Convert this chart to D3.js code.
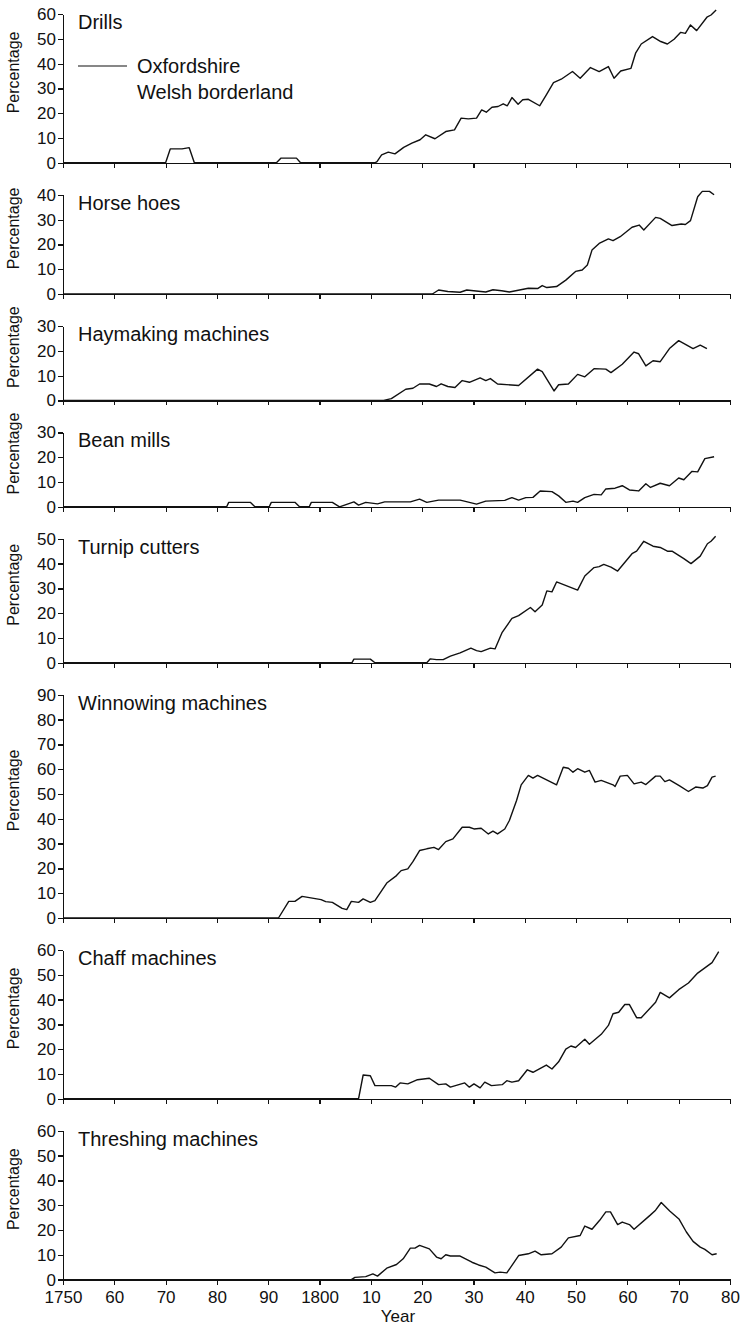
<!DOCTYPE html>
<html>
<head>
<meta charset="utf-8">
<script src="https://cdn.jsdelivr.net/npm/d3@7"></script>
<style>
  body { margin: 0; background: #fff; }
  svg text { font-family: "Liberation Sans", Arial, Helvetica, sans-serif; fill: #111; }
  .axis path, .axis line { stroke: #111; stroke-width: 1.2; shape-rendering: crispEdges; }
  .axis text { font-size: 17px; }
</style>
</head>
<body>
<div id="chart"></div>
<script>
// panel titles and y maxima (top to bottom)
var titles = ["Drills", "Horse hoes", "Haymaking machines", "Bean mills",
  "Turnip cutters", "Winnowing machines", "Chaff machines", "Threshing machines"];
var yMax = [60, 40, 30, 30, 50, 90, 60, 60];
var legendNames = ["Oxfordshire", "Welsh borderland"];
var yearTicks = [1750, 1760, 1770, 1780, 1790, 1800, 1810, 1820, 1830, 1840, 1850, 1860, 1870, 1880];

// Oxfordshire, [year, percentage]
var drills = [[1750,0],[1770,0],[1770.9,5.6],[1773.2,5.6],[1774.6,6.1],[1775.6,0],[1791.6,0],[1792.5,1.9],
  [1795.5,1.9],[1796.3,0],[1810.8,0],[1811.2,0.5],[1812.1,3.2],[1813.4,4.3],[1814.7,3.6],[1816.4,6.2],
  [1818,7.9],[1819.6,9.3],[1820.7,11.3],[1822.5,9.7],[1824.6,12.6],[1826.3,13.3],[1827.6,18],[1829,17.7],
  [1830.6,18],[1831.6,21.3],[1832.5,20.4],[1833.6,22.4],[1834.8,22.7],[1835.8,23.8],[1836.6,23],[1837.5,26.3],
  [1838.7,23.6],[1839.6,25.4],[1840.7,25.6],[1842.9,23],[1844.2,27.4],[1845.6,32.3],[1847.1,33.7],[1849.3,36.8],
  [1850.8,34.1],[1852.8,38.4],[1854.5,36.8],[1856.3,38.8],[1857.4,34.1],[1858.7,37],[1860.7,38.1],[1861.6,44.2],
  [1862.7,47.9],[1864.9,50.9],[1866.5,48.9],[1867.8,47.9],[1869.1,49.8],[1870.4,52.6],[1871.3,52.2],[1872.3,55.6],
  [1873.5,53.3],[1875.5,58.7],[1876.3,59.6],[1877.3,61.6]];

var horseHoes = [[1750,0],[1822,0],[1823.2,1.6],[1825,1],[1827.4,0.7],[1828.7,1.6],[1830.5,1.2],[1832.4,0.8],
  [1833.8,1.7],[1835.5,1.3],[1837,0.8],[1840.7,2.3],[1842.5,2.2],[1843.4,3.4],[1844.3,2.6],[1846.2,3],
  [1848,5.6],[1849.9,9.1],[1851.2,9.7],[1852.2,11.7],[1853.1,17.7],[1854.5,20.4],[1856.3,22.2],[1857.2,21.5],
  [1858.6,23.1],[1860.9,26.9],[1862.3,27.8],[1863.2,25.8],[1865.5,30.9],[1866.4,30.5],[1868.7,27.6],[1870.5,28.2],
  [1871.3,28],[1872.3,29.6],[1873.7,39.2],[1874.6,41.4],[1876,41.4],[1876.9,40]];

var haymaking = [[1750,0],[1812.5,0],[1814,0.7],[1816.8,4.5],[1818.2,4.9],[1819.5,6.6],[1821.4,6.6],[1822.8,5.6],
  [1823.7,6.7],[1825,5.6],[1826.4,5.2],[1827.8,8],[1829.2,7.3],[1831.3,9.1],[1832.4,8],[1833.3,8.8],[1834.7,6.6],
  [1838.8,6],[1842.5,12.6],[1843.4,11.6],[1845.7,3.8],[1846.6,6.3],[1848.5,6.6],[1850.3,10.5],[1851.7,9.5],
  [1853.5,12.8],[1855.8,12.6],[1856.8,11.2],[1859,14.6],[1861.3,19.5],[1862.2,18.8],[1863.6,13.9],[1865,16],
  [1866.4,15.6],[1868.2,20.9],[1870,24.1],[1872.8,20.9],[1874.2,22.3],[1875.5,20.9]];

var beanMills = [[1750,0],[1781.9,0],[1782.3,1.8],[1786.5,1.8],[1787.4,0],[1790.2,0],[1790.6,1.8],[1795.2,1.8],
  [1796.1,0],[1798,0],[1798.4,1.8],[1802.5,1.8],[1803.9,0],[1806.7,2],[1807.6,0.7],[1809,1.8],[1811.3,1.2],
  [1812.7,2],[1817.7,2],[1819.5,3.1],[1820.9,1.8],[1823.2,2.7],[1827.4,2.7],[1830.6,1.1],[1832.4,2.3],
  [1836.1,2.6],[1837.5,3.7],[1838.8,2.7],[1840.2,3.7],[1841.6,3.8],[1843,6.4],[1845.3,6.1],[1846.6,4.4],
  [1848,1.8],[1849.4,2.3],[1850.3,1.8],[1851.7,3.7],[1853.5,5],[1854.9,4.8],[1855.8,7.2],[1857.6,7.5],
  [1859,8.5],[1860.4,6.8],[1862.2,6.4],[1863.6,9.3],[1864.5,7.8],[1866.4,9.5],[1868.2,8.5],[1870,11.6],
  [1871,10.9],[1872.6,14.3],[1873.7,14.1],[1875.1,19.4],[1876.9,20.2]];

var turnipCutters = [[1750,0],[1806.3,0],[1806.7,1.5],[1809.9,1.5],[1810.8,0],[1820.9,0],[1821.6,1.6],
  [1822.8,1.3],[1824.1,1.3],[1825.5,2.7],[1827.4,4],[1829.5,5.9],[1830.6,4.9],[1831.5,4.5],[1833.3,5.9],
  [1834.2,5.6],[1835.6,12.3],[1837.5,17.9],[1838.8,19],[1841.1,22.3],[1842,20.6],[1843.4,23.3],[1844.3,29],
  [1845.3,28.6],[1846.2,32.6],[1850.3,29.3],[1851.7,35],[1853.5,38.4],[1854.5,38.8],[1855.4,39.7],[1856.8,38.6],
  [1858.1,37],[1860.9,44],[1861.8,45],[1863.2,49],[1865,47],[1866.4,46.5],[1867.8,45],[1868.7,45],
  [1871,42],[1872.4,40],[1874.2,43],[1875.6,48],[1876.3,49],[1877.2,51]];

var winnowing = [[1750,0],[1792,0],[1794,6.7],[1795.2,6.7],[1796.6,8.7],[1800.3,7.4],[1801.2,6.6],[1802.5,6.3],
  [1804.4,3.9],[1805.3,3.4],[1806.2,6.7],[1807.6,6.3],[1808.5,7.7],[1809.9,6.3],[1810.8,7],[1813.1,14.1],
  [1815,17.1],[1815.9,19.1],[1817.2,19.8],[1818.2,22.7],[1819.5,27.2],[1820.9,27.9],[1822.3,28.5],[1823.2,27.6],
  [1824.6,30.8],[1826,31.9],[1827.8,36.6],[1829.2,36.6],[1830.1,35.9],[1831.5,36.2],[1832.9,33.9],[1833.8,35],
  [1834.7,33.9],[1836.1,35.9],[1837,39.3],[1838.4,47.4],[1839.3,53.7],[1840.7,57.5],[1841.6,56.4],[1842.5,57.5],
  [1846.2,53.7],[1847.5,60.8],[1848.5,60.4],[1849.4,58.8],[1850.3,60.2],[1851.7,58.8],[1852.6,59.5],[1853.7,54.8],
  [1854.9,55.5],[1857.2,53.7],[1857.6,53],[1858.6,57.2],[1860,57.5],[1861.3,54.1],[1862.7,54.8],[1863.6,53.8],
  [1865.5,57.2],[1866.4,57.2],[1867.3,55],[1868.2,55.7],[1870.1,53.4],[1871.9,51],[1873.3,52.8],[1874.7,52.4],
  [1875.6,53.4],[1876.5,56.8],[1877.2,57.2]];

var chaff = [[1750,0],[1807.6,0],[1808.5,9.6],[1809.9,9.3],[1810.8,5.3],[1814,5.3],[1814.8,4.7],[1815.7,6.4],
  [1817.2,6],[1819.1,7.7],[1821.4,8.3],[1823.2,5.7],[1824.6,6],[1825.5,4.7],[1828.3,6.4],[1829.2,4.7],
  [1830.1,6],[1831.3,4.4],[1832.2,6.7],[1833.5,5.3],[1835.6,5.7],[1836.5,7.3],[1837.5,6.7],[1838.8,7.3],
  [1840.5,11.7],[1841.6,10.7],[1844.2,13.6],[1845.3,12],[1846.6,14.9],[1848,20],[1849,21.3],[1849.9,20.7],
  [1851.7,24],[1852.6,22],[1854.9,26],[1856.3,29.6],[1857.2,34.3],[1858.3,34.9],[1859.5,38],[1860.4,38],
  [1861.8,32.7],[1862.7,32.7],[1865.5,38.9],[1866.4,42.9],[1868.2,40.7],[1870,44],[1871.9,46.7],[1873.7,50.7],
  [1876.5,54.9],[1877.8,59.3]];

var threshing = [[1750,0],[1806.2,0],[1806.9,0.9],[1809,1.2],[1810.4,2.3],[1811.3,1.4],[1813.1,4.6],[1815,6.1],
  [1816.3,8.4],[1817.7,12.7],[1818.6,12.7],[1819.5,13.8],[1821.4,12.4],[1822.8,9.1],[1823.7,8.4],[1824.6,10],
  [1825.5,9.5],[1827.4,9.5],[1829.7,7],[1831,5.9],[1832.4,5],[1834.2,2.7],[1835.2,3],[1836.5,2.7],[1838.8,9.7],
  [1840.7,10.4],[1842,11.5],[1843.2,10],[1845.3,10.4],[1847.1,13.1],[1848.5,16.8],[1850.8,17.8],[1851.7,21.6],
  [1853.1,20.3],[1854.6,23.9],[1855.8,27.3],[1856.7,27.3],[1858.1,22.2],[1859,23.2],[1860.4,22.2],[1861.3,20.3],
  [1864.4,25.9],[1865.5,28],[1866.6,31.1],[1868.3,27.6],[1870.1,24.3],[1871.5,19.2],[1872.8,15.4],[1874.2,13.1],
  [1875.1,12.2],[1876.5,10],[1877.4,10.4]];

var series = [drills, horseHoes, haymaking, beanMills, turnipCutters, winnowing, chaff, threshing];

var width = 740, height = 1329;
var unit = 2.48, gap = 32, panelTop = 14;

var svg = d3.select("#chart").append("svg")
  .attr("width", width)
  .attr("height", height);

var x = d3.scaleLinear().domain([1750, 1880]).range([63, 730]);

var line = d3.line()
  .x(function (d) { return x(d[0]); });

titles.forEach(function (title, i) {
  var h = yMax[i] * unit;
  var y = d3.scaleLinear().domain([0, yMax[i]]).range([panelTop + h, panelTop]);
  var last = i === titles.length - 1;

  // x axis
  svg.append("g")
    .attr("class", "axis")
    .attr("transform", "translate(0," + y(0) + ")")
    .call(d3.axisBottom(x).tickValues(yearTicks).tickSize(5).tickSizeOuter(0).tickPadding(6)
      .tickFormat(function (d) {
        if (!last) return "";
        return (d === 1750 || d === 1800) ? String(d) : String(d % 100);
      }));

  // y axis
  svg.append("g")
    .attr("class", "axis")
    .attr("transform", "translate(" + x(1750) + ",0)")
    .call(d3.axisLeft(y).tickValues(d3.range(0, yMax[i] + 1, 10)).tickSize(5).tickSizeOuter(0).tickPadding(2));

  svg.append("text")
    .attr("transform", "translate(19," + (panelTop + h / 2 - 16) + ") rotate(-90)")
    .attr("text-anchor", "middle")
    .style("font-size", "16px")
    .text("Percentage");

  svg.append("text")
    .attr("x", 78)
    .attr("y", panelTop + 15)
    .style("font-size", "20px")
    .text(title);

  svg.append("path")
    .datum(series[i])
    .attr("d", line.y(function (d) { return y(d[1]); }))
    .attr("fill", "none")
    .attr("stroke", "#111")
    .attr("stroke-width", 1.4)
    .attr("stroke-linejoin", "round");

  if (i === 0) {
    svg.append("line")
      .attr("x1", 78).attr("x2", 127)
      .attr("y1", 66).attr("y2", 66)
      .attr("stroke", "#111").attr("stroke-width", 1.1);
    svg.selectAll(".legend")
      .data(legendNames)
      .enter().append("text")
      .attr("class", "legend")
      .attr("x", 137)
      .attr("y", function (d, j) { return 73 + j * 26; })
      .style("font-size", "20px")
      .text(function (d) { return d; });
  }

  panelTop += h + gap;
});

svg.append("text")
  .attr("x", 398)
  .attr("y", 1322)
  .attr("text-anchor", "middle")
  .style("font-size", "17px")
  .text("Year");
</script>
</body>
</html>
